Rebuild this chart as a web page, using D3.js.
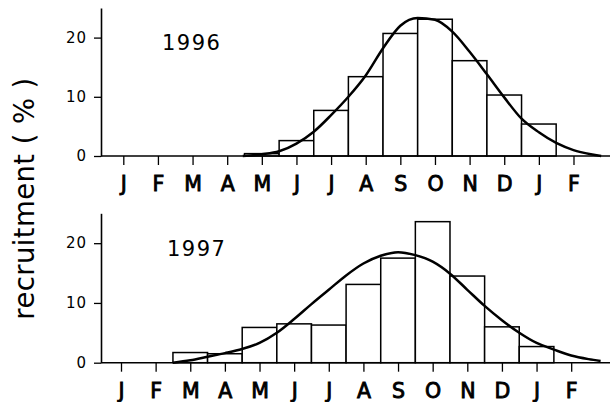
<!DOCTYPE html>
<html>
<head>
<meta charset="utf-8">
<script src="https://cdn.jsdelivr.net/npm/d3@7"></script>
<style>
  body { margin: 0; background: #fff; }
  svg { display: block; font-family: 'DejaVu Sans', sans-serif; }
</style>
</head>
<body>
<svg id="chart" width="612" height="402"></svg>
<script>
// month labels, Jan of year 1 through Feb of year 2
var months = ['J', 'F', 'M', 'A', 'M', 'J', 'J', 'A', 'S', 'O', 'N', 'D', 'J', 'F'];
var yTicks = [0, 10, 20];

// monthly recruitment (%)
var recruit1996 = [0, 0, 0, 0, 0.4, 2.6, 7.7, 13.4, 20.7, 23.1, 16.1, 10.3, 5.4, 0];
var recruit1997 = [0, 0, 1.7, 1.5, 5.9, 6.5, 6.3, 13.1, 17.5, 23.6, 14.5, 6.0, 2.7, 0];

// fitted curves (month index, %)
var fitMonths1996 = [3.45, 4, 4.5, 5, 5.5, 6, 6.5, 7, 7.5, 8, 8.5, 9, 9.5, 10, 10.5, 11, 11.5, 12, 12.5, 13, 13.5, 13.8];
var fit1996 = [0, 0.3, 0.8, 2.1, 4.1, 6.9, 10.0, 13.6, 18.2, 22.0, 23.3, 23.0, 21.0, 17.6, 13.8, 9.9, 6.3, 4.0, 2.2, 1.0, 0.3, 0];
var fitMonths1997 = [1.5, 2, 2.5, 3, 3.5, 4, 4.5, 5, 5.5, 6, 6.5, 7, 7.5, 8, 8.5, 9, 9.5, 10, 10.5, 11, 11.5, 12, 12.5, 13, 13.5, 13.85];
var fit1997 = [0, 0.4, 1.0, 1.6, 2.3, 3.3, 5.0, 7.3, 9.8, 12.2, 14.6, 16.6, 17.9, 18.5, 18.0, 16.9, 14.9, 12.2, 9.5, 7.1, 5.0, 3.3, 2.2, 1.2, 0.6, 0.3];

var svg = d3.select('#chart');
var axisX = 101, rightEnd = 610, step = 34.63;

var panels = [
	{year: '1996', bars: recruit1996, fx: fitMonths1996, fy: fit1996, x0: 123.3, yZero: 156, yTop: 8, yearX: 162, yearY: 50},
	{year: '1997', bars: recruit1997, fx: fitMonths1997, fy: fit1997, x0: 121, yZero: 362.7, yTop: 213.3, yearX: 167, yearY: 256}
];

panels.forEach(function (p) {
	var x = d3.scaleLinear().domain([0, 13]).range([p.x0, p.x0 + 13 * step]),
		y = d3.scaleLinear().domain([0, 25]).range([p.yZero, p.yTop]),
		g = svg.append('g');

	// bars (white, outlined)
	g.selectAll('rect.bar').data(p.bars.map(function (v, i) { return {i: i, v: v}; }).filter(function (d) { return d.v > 0; }))
		.enter().append('rect')
		.attr('class', 'bar')
		.attr('x', function (d) { return x(d.i - 0.5); })
		.attr('width', function (d) { return x(d.i + 0.5) - x(d.i - 0.5); })
		.attr('y', function (d) { return y(d.v); })
		.attr('height', function (d) { return y(0) - y(d.v); })
		.style('fill', '#fff')
		.style('stroke', '#000')
		.style('stroke-width', 1.5);

	// baseline
	g.append('line')
		.attr('x1', axisX).attr('x2', rightEnd)
		.attr('y1', y(0)).attr('y2', y(0))
		.style('stroke', '#000').style('stroke-width', 1.6);

	// month ticks
	var xa = g.append('g').attr('transform', 'translate(0,' + y(0) + ')')
		.call(d3.axisBottom(x).tickValues(d3.range(months.length)).tickSize(9).tickSizeOuter(0)
			.tickFormat(function (d, i) { return months[i]; }));
	xa.select('.domain').remove();
	xa.selectAll('line').style('stroke', '#000').style('stroke-width', 1.3);
	xa.selectAll('text')
		.attr('y', 35).attr('dy', 0)
		.style('font-family', "'DejaVu Sans', sans-serif")
		.style('font-size', '20.5px')
		.style('fill', '#000')
		.style('stroke', '#000').style('stroke-width', 0.9);

	// y axis
	var ya = g.append('g').attr('transform', 'translate(' + axisX + ',0)')
		.call(d3.axisLeft(y).tickValues(yTicks).tickSize(7).tickSizeOuter(0).tickPadding(7));
	ya.select('.domain').style('stroke', '#000').style('stroke-width', 1.6);
	ya.selectAll('line').style('stroke', '#000').style('stroke-width', 1.3);
	ya.selectAll('text')
		.style('font-family', "'DejaVu Sans', sans-serif")
		.style('font-size', '15px')
		.style('letter-spacing', '1px')
		.style('fill', '#000');

	// fitted curve
	var line = d3.line()
		.x(function (d) { return x(d[0]); })
		.y(function (d) { return y(d[1]); })
		.curve(d3.curveMonotoneX);
	g.append('path')
		.datum(p.fx.map(function (m, i) { return [m, p.fy[i]]; }))
		.attr('d', line)
		.style('fill', 'none')
		.style('stroke', '#000')
		.style('stroke-width', 2.5);

	// year label
	g.append('text')
		.attr('x', p.yearX).attr('y', p.yearY)
		.style('font-size', '21px')
		.style('letter-spacing', '1.5px')
		.style('fill', '#000')
		.text(p.year);
});

// y-axis title
svg.append('text')
	.attr('transform', 'translate(33.5,198.5) rotate(-90)')
	.attr('text-anchor', 'middle')
	.style('font-size', '27.5px')
	.style('letter-spacing', '0.4px')
	.style('fill', '#000')
	.text('recruitment ( % )');
</script>
</body>
</html>
